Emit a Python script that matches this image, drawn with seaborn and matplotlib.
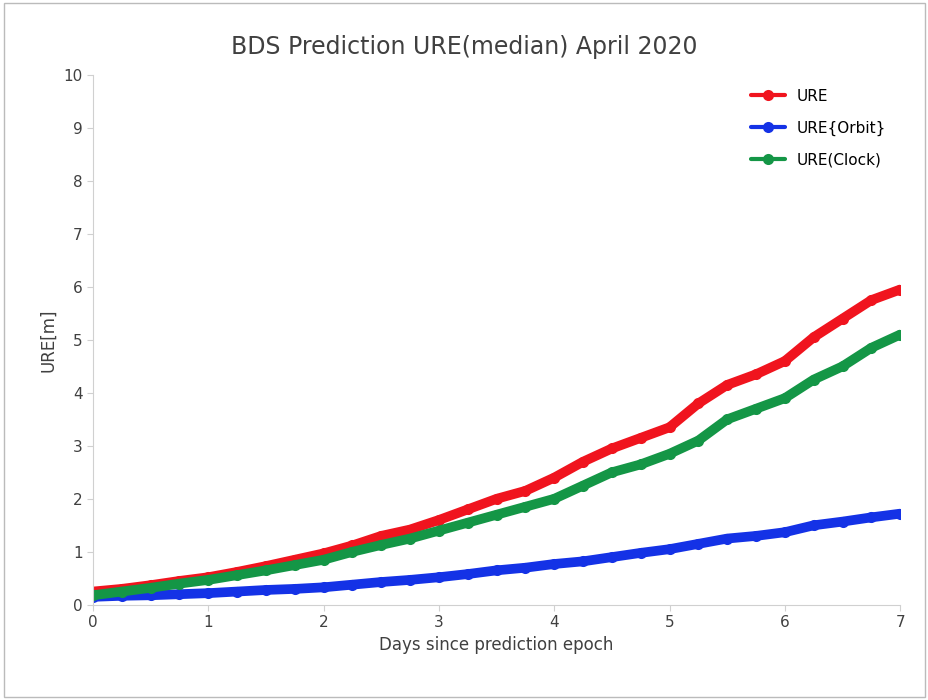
import numpy as np
import pandas as pd
import matplotlib
matplotlib.use("Agg")
import matplotlib.pyplot as plt
import seaborn as sns

days = [i * 0.25 for i in range(29)]
ure = [0.25, 0.30, 0.37, 0.45, 0.52, 0.62, 0.73, 0.85, 0.97, 1.12, 1.30, 1.42, 1.60, 1.80,
       2.00, 2.15, 2.40, 2.70, 2.95, 3.15, 3.35, 3.80, 4.15, 4.35, 4.60, 5.05, 5.40, 5.75, 5.95]
ure_orbit = [0.15, 0.17, 0.18, 0.20, 0.22, 0.25, 0.28, 0.30, 0.33, 0.38, 0.43, 0.47, 0.52, 0.58,
             0.65, 0.70, 0.77, 0.82, 0.90, 0.98, 1.05, 1.15, 1.25, 1.30, 1.37, 1.50, 1.57, 1.65, 1.72]
ure_clock = [0.18, 0.25, 0.32, 0.40, 0.47, 0.56, 0.65, 0.75, 0.85, 1.00, 1.13, 1.25, 1.40, 1.55,
             1.70, 1.85, 2.00, 2.25, 2.50, 2.65, 2.85, 3.10, 3.50, 3.70, 3.90, 4.25, 4.50, 4.85, 5.10]

df = pd.DataFrame({"days": days, "URE": ure, "URE{Orbit}": ure_orbit, "URE(Clock)": ure_clock})
long = df.melt("days", var_name="series", value_name="val")
colors = {"URE": "#f0141e", "URE{Orbit}": "#1432e6", "URE(Clock)": "#149646"}

fig = plt.figure(figsize=(9.29, 7), dpi=100)
ax = fig.add_axes([0.1, 0.136, 0.869, 0.757])
sns.lineplot(data=long, x="days", y="val", hue="series", palette=colors, ax=ax,
             linewidth=7, marker="o", markersize=8, markeredgewidth=0, solid_capstyle="round")
ax.set_xlim(0, 7)
ax.set_ylim(0, 10)
ax.set_xticks(range(8))
ax.set_yticks(range(11))
for s in ["top", "right"]:
    ax.spines[s].set_visible(False)
for s in ["left", "bottom"]:
    ax.spines[s].set_color("#d0d0d0")
ax.tick_params(colors="#404040", labelsize=11, length=4, color="#d0d0d0")
ax.set_xlabel("Days since prediction epoch", fontsize=12, color="#404040")
ax.set_ylabel("URE[m]", fontsize=12, color="#404040")
fig.suptitle("BDS Prediction URE(median) April 2020", y=0.95, fontsize=17, color="#404040")
leg = ax.legend(loc="upper right", frameon=False, fontsize=11, handlelength=2.2, labelspacing=1.1)
for h in leg.legend_handles:
    h.set_linewidth(3)
fig.patches.append(plt.Rectangle((0.004, 0.004), 0.992, 0.992, transform=fig.transFigure,
                                 fill=False, edgecolor="#bbbbbb", linewidth=1))
fig.savefig("out.png", dpi=100)
